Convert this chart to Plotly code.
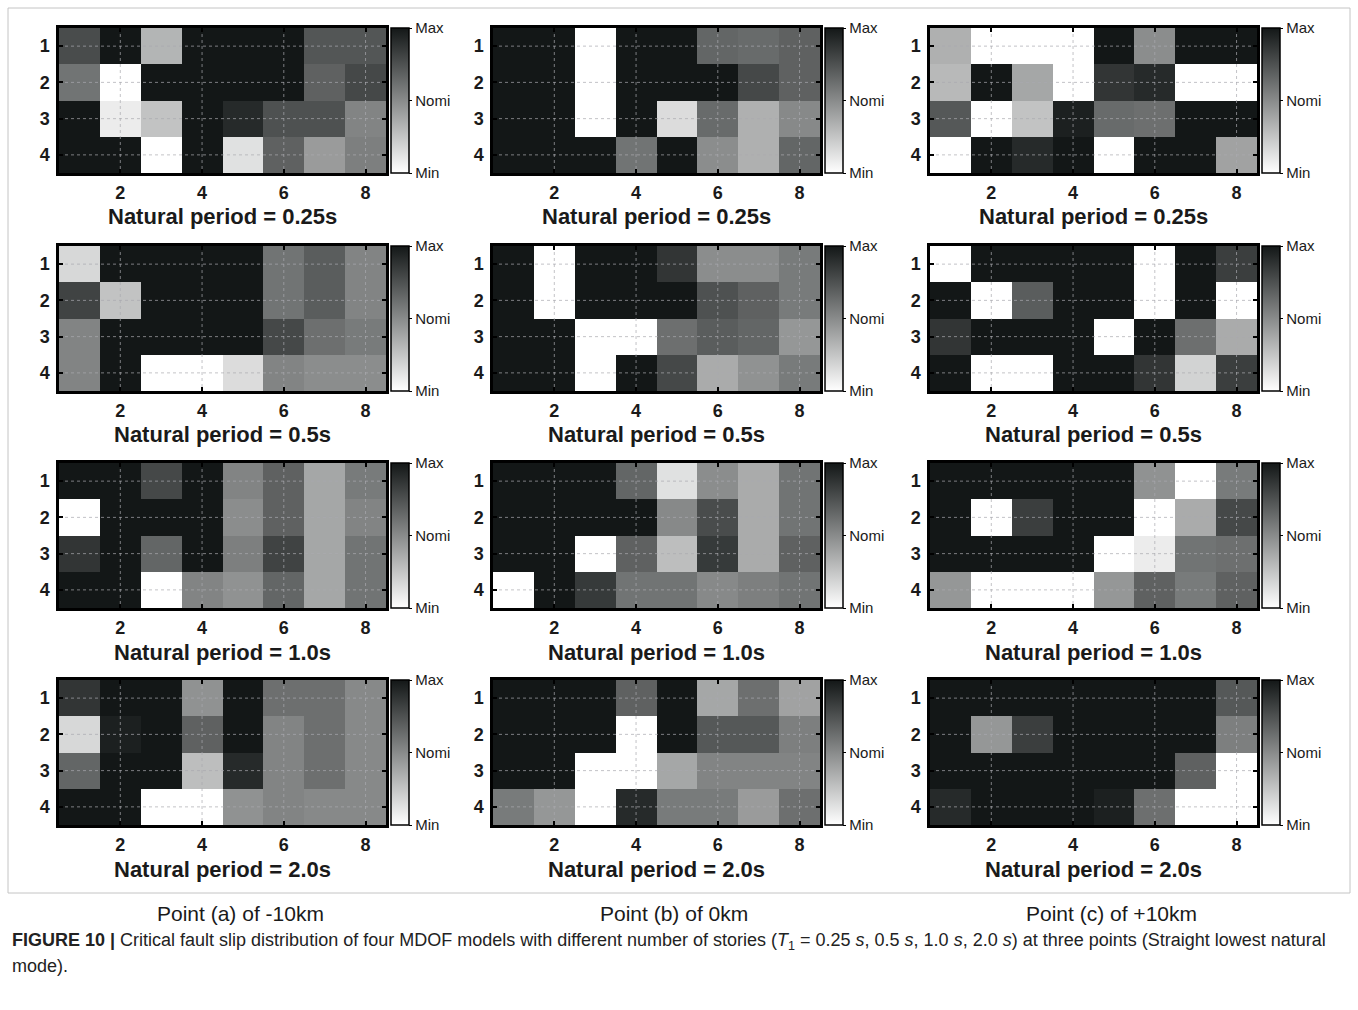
import plotly.graph_objects as go

# Grid axes of every slip map
stories = [1, 2, 3, 4]
bays = [1, 2, 3, 4, 5, 6, 7, 8]
bay_ticks = [2, 4, 6, 8]
story_ticks = [1, 2, 3, 4]

period_labels = ["0.25s", "0.5s", "1.0s", "2.0s"]
point_labels = ["Point (a) of -10km", "Point (b) of 0km", "Point (c) of +10km"]
scale_labels = ["Min", "Nomi", "Max"]
scale_levels = [0.0, 0.5, 1.0]

# Normalised critical slip (0 = Min, 1 = Max); rows are stories 1..4, columns bays 1..8
slip_a_025 = [[0.77, 1, 0.32, 1, 1, 1, 0.73, 0.73],
              [0.60, 0, 1, 1, 1, 1, 0.68, 0.79],
              [1, 0.08, 0.26, 1, 0.92, 0.75, 0.75, 0.53],
              [1, 1, 0, 1, 0.13, 0.68, 0.43, 0.55]]
slip_b_025 = [[1, 1, 0, 1, 1, 0.66, 0.64, 0.68],
              [1, 1, 0, 1, 1, 1, 0.79, 0.68],
              [1, 1, 0, 1, 0.15, 0.64, 0.34, 0.51],
              [1, 1, 1, 0.60, 1, 0.49, 0.34, 0.66]]
slip_c_025 = [[0.34, 0, 0, 0, 1, 0.49, 1, 1],
              [0.30, 1, 0.38, 0, 0.87, 0.92, 0, 0],
              [0.72, 0, 0.26, 0.96, 0.64, 0.62, 1, 1],
              [0, 1, 0.92, 1, 0, 1, 1, 0.40]]

slip_a_05 = [[0.17, 1, 1, 1, 1, 0.60, 0.70, 0.53],
             [0.81, 0.26, 1, 1, 1, 0.60, 0.70, 0.53],
             [0.53, 1, 1, 1, 1, 0.79, 0.62, 0.57],
             [0.53, 1, 0, 0, 0.15, 0.53, 0.49, 0.49]]
slip_b_05 = [[1, 0, 1, 1, 0.87, 0.49, 0.49, 0.57],
             [1, 0, 1, 1, 1, 0.75, 0.68, 0.57],
             [1, 1, 0, 0, 0.62, 0.70, 0.66, 0.45],
             [1, 1, 0, 1, 0.79, 0.36, 0.47, 0.57]]
slip_c_05 = [[0, 1, 1, 1, 1, 0, 1, 0.83],
             [1, 0, 0.70, 1, 1, 0, 1, 0],
             [0.87, 1, 1, 1, 0, 1, 0.62, 0.36],
             [1, 0, 0, 1, 1, 0.87, 0.19, 0.83]]

slip_a_10 = [[1, 1, 0.79, 1, 0.53, 0.68, 0.38, 0.57],
             [0, 1, 1, 1, 0.49, 0.68, 0.38, 0.53],
             [0.87, 1, 0.66, 1, 0.55, 0.81, 0.38, 0.60],
             [1, 1, 0, 0.53, 0.47, 0.66, 0.38, 0.60]]
slip_b_10 = [[1, 1, 1, 0.66, 0.13, 0.49, 0.36, 0.60],
             [1, 1, 1, 1, 0.51, 0.77, 0.36, 0.60],
             [1, 1, 0, 0.68, 0.28, 0.85, 0.36, 0.68],
             [0, 1, 0.85, 0.60, 0.60, 0.51, 0.55, 0.60]]
slip_c_10 = [[1, 1, 1, 1, 1, 0.47, 0, 0.57],
             [1, 0, 0.83, 1, 1, 0, 0.36, 0.79],
             [1, 1, 1, 1, 0, 0.08, 0.60, 0.62],
             [0.45, 0, 0, 0, 0.45, 0.68, 0.57, 0.68]]

slip_a_20 = [[0.87, 1, 1, 0.47, 1, 0.62, 0.62, 0.51],
             [0.17, 0.96, 1, 0.68, 1, 0.53, 0.62, 0.51],
             [0.66, 1, 1, 0.28, 0.92, 0.53, 0.62, 0.51],
             [1, 1, 0, 0, 0.47, 0.53, 0.51, 0.51]]
slip_b_20 = [[1, 1, 1, 0.68, 1, 0.38, 0.62, 0.40],
             [1, 1, 1, 0, 1, 0.72, 0.72, 0.55],
             [1, 1, 0, 0, 0.38, 0.53, 0.53, 0.53],
             [0.57, 0.45, 0, 0.92, 0.57, 0.57, 0.43, 0.62]]
slip_c_20 = [[1, 1, 1, 1, 1, 1, 1, 0.72],
             [1, 0.45, 0.83, 1, 1, 1, 1, 0.55],
             [1, 1, 1, 1, 1, 1, 0.68, 0],
             [0.92, 1, 1, 1, 0.96, 0.62, 0, 0]]

slip_maps = [[slip_a_025, slip_b_025, slip_c_025],
             [slip_a_05, slip_b_05, slip_c_05],
             [slip_a_10, slip_b_10, slip_c_10],
             [slip_a_20, slip_b_20, slip_c_20]]

# ---- page geometry (pixels) ----
W, H = 1358, 1010
col_left = [59, 493, 930]
panel_w = 327
row_top = [28, 246, 463, 680]
panel_h = 145
FONT = "Liberation Sans, Arial, sans-serif"
INK = "#1a1a1a"


def fx(px):
    return px / W


def fy(py):
    return 1 - py / H


gray_scale = [[0.0, "#ffffff"], [1.0, "#131717"]]

fig = go.Figure()
layout_axes = {}
annotations = []

k = 0
for r in range(4):
    for c in range(3):
        k += 1
        xa = "x" if k == 1 else f"x{k}"
        ya = "y" if k == 1 else f"y{k}"
        x0, x1 = col_left[c], col_left[c] + panel_w
        y0, y1 = row_top[r], row_top[r] + panel_h

        fig.add_trace(go.Heatmap(
            z=slip_maps[r][c], x=bays, y=stories,
            xaxis=xa, yaxis=ya,
            zmin=0, zmax=1, colorscale=gray_scale,
            showscale=True,
            colorbar=dict(
                x=fx(x1 + 5), xanchor="left", xpad=0,
                y=fy((y0 + y1) / 2), yanchor="middle", ypad=0,
                len=panel_h, lenmode="pixels",
                thickness=18, thicknessmode="pixels",
                outlinewidth=1.5, outlinecolor="black",
                tickvals=scale_levels, ticktext=scale_labels,
                ticks="outside", ticklen=3, tickcolor="black",
                tickfont=dict(family=FONT, size=15, color=INK),
            ),
            hoverinfo="skip",
        ))

        # dotted reference grid drawn over the cells
        gx, gy = [], []
        for t in bay_ticks:
            gx += [t, t, None]
            gy += [0.5, 4.5, None]
        for t in story_ticks:
            gx += [0.5, 8.5, None]
            gy += [t, t, None]
        fig.add_trace(go.Scatter(
            x=gx, y=gy, xaxis=xa, yaxis=ya, mode="lines",
            line=dict(color="rgba(170,170,175,0.7)", width=1, dash="dot"),
            hoverinfo="skip", showlegend=False,
        ))

        xkey = "xaxis" if k == 1 else f"xaxis{k}"
        ykey = "yaxis" if k == 1 else f"yaxis{k}"
        layout_axes[xkey] = dict(
            domain=[fx(x0), fx(x1)], anchor=ya, range=[0.5, 8.5],
            tickvals=bay_ticks, ticks="inside", ticklen=4, tickwidth=2,
            tickcolor="black", showline=True, linewidth=2.5, linecolor="black",
            mirror="ticks", showgrid=False, zeroline=False, layer="above traces",
            tickfont=dict(family=FONT, size=18, color=INK, weight="bold"),
            ticklabelstandoff=2, fixedrange=True,
        )
        layout_axes[ykey] = dict(
            domain=[fy(y1), fy(y0)], anchor=xa, range=[4.5, 0.5],
            tickvals=story_ticks, ticks="inside", ticklen=4, tickwidth=2,
            tickcolor="black", showline=True, linewidth=2.5, linecolor="black",
            mirror="ticks", showgrid=False, zeroline=False, layer="above traces",
            tickfont=dict(family=FONT, size=18, color=INK, weight="bold"),
            ticklabelstandoff=3, fixedrange=True,
        )

        annotations.append(dict(
            x=fx((x0 + x1) / 2), y=fy(y1 + 44), xref="paper", yref="paper",
            text=f"Natural period = {period_labels[r]}", showarrow=False,
            xanchor="center", yanchor="middle",
            font=dict(family=FONT, size=22, color=INK, weight="bold"),
        ))

point_centers = [240, 674, 1111]
for c in range(3):
    annotations.append(dict(
        x=fx(point_centers[c]), y=fy(913), xref="paper", yref="paper",
        text=point_labels[c], showarrow=False, xanchor="center", yanchor="middle",
        font=dict(family=FONT, size=21, color=INK),
    ))

caption_1 = ("<b>FIGURE 10 |</b> Critical fault slip distribution of four MDOF models with "
             "different number of stories (<i>T</i><sub>1</sub> = 0.25<i> s</i>, 0.5<i> s</i>, "
             "1.0<i> s</i>, 2.0<i> s</i>) at three points (Straight lowest natural")
caption_2 = "mode)."
annotations.append(dict(
    x=fx(10), y=fy(941), xref="paper", yref="paper", text=caption_1,
    showarrow=False, xanchor="left", yanchor="middle",
    font=dict(family=FONT, size=18, color="#222222"),
))
annotations.append(dict(
    x=fx(10), y=fy(966), xref="paper", yref="paper", text=caption_2,
    showarrow=False, xanchor="left", yanchor="middle",
    font=dict(family=FONT, size=18, color="#222222"),
))

fig.update_layout(
    width=W, height=H,
    margin=dict(l=0, r=0, t=0, b=0),
    paper_bgcolor="white", plot_bgcolor="white",
    showlegend=False,
    annotations=annotations,
    shapes=[dict(type="rect", xref="paper", yref="paper",
                 x0=fx(8), x1=fx(1350), y0=fy(893), y1=fy(8),
                 line=dict(color="#c4c4c4", width=1))],
    **layout_axes,
)

fig.write_html("out.html")
